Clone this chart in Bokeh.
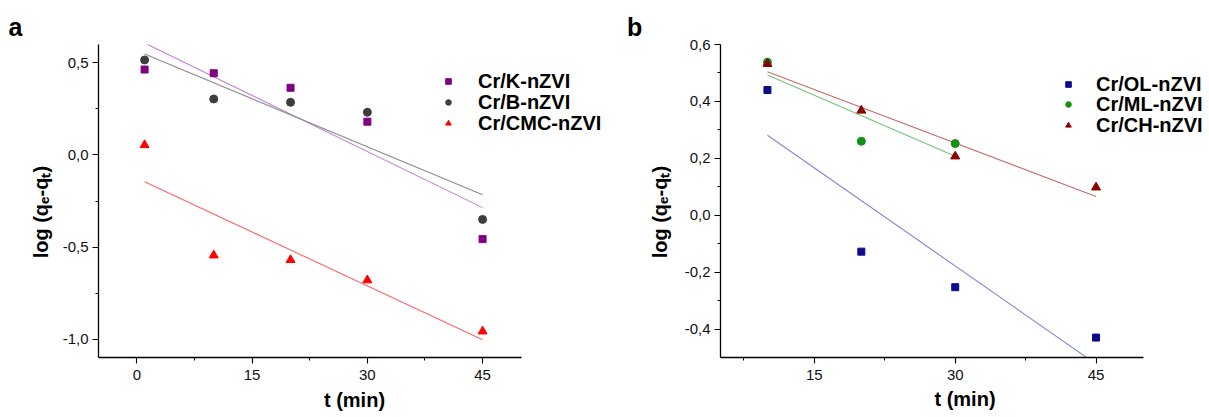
import numpy as np
from bokeh.plotting import figure
from bokeh.layouts import row
from bokeh.models import (Range1d, FixedTicker, CustomJSTickFormatter, Legend,
                          LegendItem)
from bokeh.embed import file_html
from bokeh.resources import INLINE

# ---------------- Panel a data ----------------
t_a = [1, 10, 20, 30, 45]
K_nZVI = [0.464, 0.444, 0.365, 0.181, -0.457]
B_nZVI = [0.516, 0.304, 0.286, 0.232, -0.350]
CMC_nZVI = [0.054, -0.545, -0.570, -0.680, -0.958]

fit_t_a = [1, 45]
fit_K = [0.608, -0.286]
fit_B = [0.548, -0.216]
fit_CMC = [-0.145, -1.004]

# ---------------- Panel b data ----------------
t_OL = [10, 20, 30, 45]
OL_nZVI = [0.440, -0.128, -0.253, -0.430]
t_ML = [10, 20, 30]
ML_nZVI = [0.538, 0.260, 0.252]
t_CH = [10, 20, 30, 45]
CH_nZVI = [0.532, 0.368, 0.207, 0.098]

fit_t_OL = [10, 45]
fit_OL = [0.281, -0.523]
fit_t_ML = [10, 30]
fit_ML = [0.493, 0.207]
fit_t_CH = [10, 45]
fit_CH = [0.504, 0.066]

# ---------------- Ticks ----------------
xticks_a = [0, 15, 30, 45]
xtick_labels_a = ["0", "15", "30", "45"]
xminor_a = [7.5, 22.5, 37.5]
yticks_a = [-1.0, -0.5, 0.0, 0.5]
ytick_labels_a = ["-1,0", "-0,5", "0,0", "0,5"]
yminor_a = [-0.75, -0.25, 0.25]

xticks_b = [15, 30, 45]
xtick_labels_b = ["15", "30", "45"]
xminor_b = [7.5, 22.5, 37.5]
yticks_b = [-0.4, -0.2, 0.0, 0.2, 0.4, 0.6]
ytick_labels_b = ["-0,4", "-0,2", "0,0", "0,2", "0,4", "0,6"]
yminor_b = [-0.3, -0.1, 0.1, 0.3, 0.5]

FONT = "Liberation Sans"
# trailing no-break spaces nudge the centred, rotated title slightly downwards
YLABEL = "log (qₑ-qₜ)\u00a0\u00a0\u00a0\u00a0"
XLABEL = "t (min)"


def fmt(tvals, tlabels):
    return CustomJSTickFormatter(args=dict(tvals=tvals, tlabels=tlabels), code="""
        for (let i = 0; i < tvals.length; i++) {
            if (Math.abs(tvals[i] - tick) < 1e-9) { return tlabels[i]; }
        }
        return String(tick).replace('.', ',');
    """)


def style_axis(ax, tvals, minor, tlabels, label, tick_standoff, label_standoff,
               bounds):
    ax.ticker = FixedTicker(ticks=tvals, minor_ticks=minor)
    ax.formatter = fmt(tvals, tlabels)
    ax.bounds = bounds
    ax.axis_line_color = "black"
    ax.axis_line_width = 1.3
    ax.major_tick_line_color = "black"
    ax.major_tick_line_width = 1.1
    ax.major_tick_out = 6
    ax.major_tick_in = 0
    ax.minor_tick_line_color = "black"
    ax.minor_tick_line_width = 1.0
    ax.minor_tick_out = 3
    ax.minor_tick_in = 0
    ax.major_label_text_font = FONT
    ax.major_label_text_font_size = "15px"
    ax.major_label_text_color = "#111111"
    ax.major_label_standoff = tick_standoff
    ax.axis_label = label
    ax.axis_label_text_font = FONT
    ax.axis_label_text_font_size = "20px"
    ax.axis_label_text_font_style = "bold"
    ax.axis_label_text_color = "black"
    ax.axis_label_standoff = label_standoff


def make_fig(width, height, x0, x1, axis_px, y0, y1, bl, bt, bb, letter,
             letter_offset, letter_standoff):
    # the frame reaches the right edge of the canvas so the legend is not cut;
    # the x axis itself is bounded to [x0, x1] and spans axis_px pixels
    frame_w = width - bl
    x_end = x0 + (x1 - x0) * frame_w / axis_px
    p = figure(width=width, height=height, x_range=Range1d(x0, x_end),
               y_range=Range1d(y0, y1), output_backend="svg",
               toolbar_location=None, min_border_left=bl, min_border_right=0,
               min_border_top=bt, min_border_bottom=bb)
    p.grid.visible = False
    p.outline_line_color = None
    p.background_fill_color = "white"
    p.border_fill_color = "white"
    p.title.text = letter
    p.title.align = "left"
    p.title.offset = letter_offset
    p.title.standoff = letter_standoff
    p.title.text_font = FONT
    p.title.text_font_size = "25px"
    p.title.text_font_style = "bold"
    p.title.text_color = "black"
    return p


def add_legend_row(p, label, renderer, loc, standoff):
    leg = Legend(items=[LegendItem(label=label, renderers=[renderer])],
                 location=loc)
    leg.glyph_width = 14
    leg.glyph_height = 14
    leg.label_standoff = standoff
    leg.padding = 0
    leg.margin = 0
    leg.spacing = 0
    leg.border_line_color = None
    leg.background_fill_alpha = 0
    leg.label_text_font = FONT
    leg.label_text_font_style = "bold"
    leg.label_text_font_size = "20px"
    leg.label_text_color = "black"
    p.add_layout(leg)


# ================= Panel a =================
pa = make_fig(610, 417, -5, 50, 422.5, -1.1, 0.6, 98, 44, 58, "a", -90, 8)
style_axis(pa.xaxis[0], xticks_a, xminor_a, xtick_labels_a, XLABEL, 6, 6, (-5, 50))
style_axis(pa.yaxis[0], yticks_a, yminor_a, ytick_labels_a, YLABEL, 4, 8, (-1.1, 0.6))

pa.line(fit_t_a, fit_K, line_color="#c47fd6", line_width=1.1)
pa.line(fit_t_a, fit_B, line_color="#8c8c8c", line_width=1.1)
pa.line(fit_t_a, fit_CMC, line_color="#ff6464", line_width=1.1)
rK = pa.scatter(t_a, K_nZVI, marker="square", size=7, color="#800080")
rB = pa.scatter(t_a, B_nZVI, marker="circle", size=8, color="#3d3d3d")
rC = pa.scatter(t_a, CMC_nZVI, marker="triangle", size=9, color="#ff0000")

add_legend_row(pa, "Cr/K-nZVI", rK, (343, 264.5), 23)
add_legend_row(pa, "Cr/B-nZVI", rB, (343, 243.5), 23)
add_legend_row(pa, "Cr/CMC-nZVI", rC, (343, 222.5), 23)

# ================= Panel b =================
pb = make_fig(599, 417, 5, 50, 422.5, -0.5, 0.6, 110, 43, 60, "b", -93.5, 7)
style_axis(pb.xaxis[0], xticks_b, xminor_b, xtick_labels_b, XLABEL, 6, 5, (5, 50))
style_axis(pb.yaxis[0], yticks_b, yminor_b, ytick_labels_b, YLABEL, 4, 11, (-0.5, 0.6))

pb.line(fit_t_OL, fit_OL, line_color="#7f86d2", line_width=1.1)
pb.line(fit_t_ML, fit_ML, line_color="#76c476", line_width=1.1)
pb.line(fit_t_CH, fit_CH, line_color="#c46e6e", line_width=1.1)
rO = pb.scatter(t_OL, OL_nZVI, marker="square", size=7, color="#0c0c8a")
rM = pb.scatter(t_ML, ML_nZVI, marker="circle", size=8, color="#129112")
rH = pb.scatter(t_CH, CH_nZVI, marker="triangle", size=9, color="#8b0000")

add_legend_row(pb, "Cr/OL-nZVI", rO, (341, 261.5), 21)
add_legend_row(pb, "Cr/ML-nZVI", rM, (341, 241.5), 21)
add_legend_row(pb, "Cr/CH-nZVI", rH, (341, 220.5), 21)

layout = row(pa, pb)
open("out.html", "w").write(file_html(layout, INLINE))
